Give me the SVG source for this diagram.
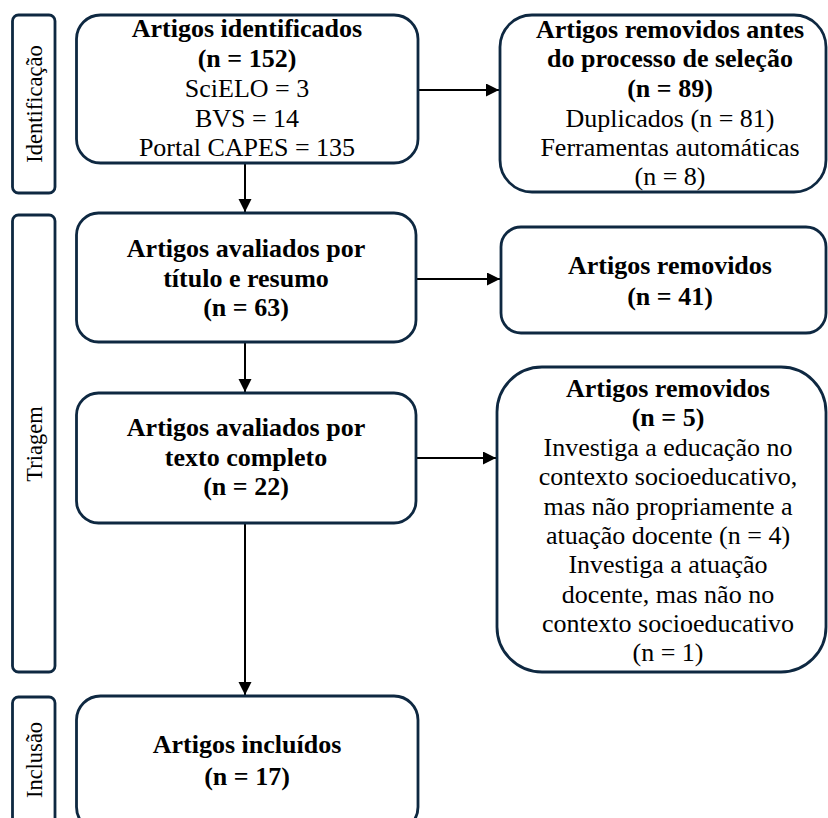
<svg xmlns="http://www.w3.org/2000/svg" width="828" height="818" viewBox="0 0 828 818">
<style>
  .box { fill: #ffffff; stroke: #0E2841; stroke-width: 2.8; }
  .conn { stroke: #000000; stroke-width: 2; fill: none; }
</style>
<defs>
  <marker id="arrow" markerUnits="userSpaceOnUse" markerWidth="14" markerHeight="14" refX="13" refY="6.5" orient="auto">
    <path d="M0,0 L13,6.5 L0,13 z" fill="#000000"/>
  </marker>
</defs>
<rect width="828" height="818" fill="#ffffff"/>

<g id="label-identificacao">
  <rect class="box" x="12.5" y="15" width="42.5" height="178" rx="6"/>
  <text font-family="Liberation Serif" font-size="22.5" text-anchor="middle" transform="translate(42,104) rotate(-90)">Identificação</text>
</g>
<g id="label-triagem">
  <rect class="box" x="12.5" y="215" width="42.5" height="457" rx="6"/>
  <text font-family="Liberation Serif" font-size="22.5" text-anchor="middle" transform="translate(42,444) rotate(-90)">Triagem</text>
</g>
<g id="label-inclusao">
  <rect class="box" x="12.5" y="697" width="42.5" height="130" rx="6"/>
  <text font-family="Liberation Serif" font-size="22.5" text-anchor="middle" transform="translate(42,760) rotate(-90)">Inclusão</text>
</g>

<g id="connectors">
  <line class="conn" marker-end="url(#arrow)" x1="245" y1="163" x2="245" y2="212"/>
  <line class="conn" marker-end="url(#arrow)" x1="418" y1="90" x2="499" y2="90"/>
  <line class="conn" marker-end="url(#arrow)" x1="416" y1="279" x2="500" y2="279"/>
  <line class="conn" marker-end="url(#arrow)" x1="245" y1="342" x2="245" y2="392"/>
  <line class="conn" marker-end="url(#arrow)" x1="416" y1="458" x2="496" y2="458"/>
  <line class="conn" marker-end="url(#arrow)" x1="245" y1="523" x2="245" y2="695"/>
</g>

<g id="node-identificados">
  <rect class="box" x="76.5" y="15" width="341.5" height="148" rx="24"/>
  <g font-family="Liberation Serif" font-size="26" text-anchor="middle">
    <text font-weight="bold" x="247" y="37">Artigos identificados</text>
    <text font-weight="bold" x="247" y="67">(n = 152)</text>
    <text x="247" y="97">SciELO = 3</text>
    <text x="247" y="127">BVS = 14</text>
    <text x="247" y="156">Portal CAPES = 135</text>
  </g>
</g>

<g id="node-removidos-antes">
  <rect class="box" x="500" y="15" width="326" height="177" rx="32"/>
  <g font-family="Liberation Serif" font-size="26" text-anchor="middle">
    <text font-weight="bold" x="670" y="38">Artigos removidos antes</text>
    <text font-weight="bold" x="670" y="67">do processo de seleção</text>
    <text font-weight="bold" x="670" y="97">(n = 89)</text>
    <text x="670" y="127">Duplicados (n = 81)</text>
    <text x="670" y="156">Ferramentas automáticas</text>
    <text x="670" y="185">(n = 8)</text>
  </g>
</g>

<g id="node-titulo-resumo">
  <rect class="box" x="76.5" y="213" width="339.5" height="129" rx="22"/>
  <g font-family="Liberation Serif" font-size="26" text-anchor="middle" font-weight="bold">
    <text x="246" y="257">Artigos avaliados por</text>
    <text x="246" y="287">título e resumo</text>
    <text x="246" y="316">(n = 63)</text>
  </g>
</g>

<g id="node-removidos-41">
  <rect class="box" x="501" y="227" width="325" height="106" rx="20"/>
  <g font-family="Liberation Serif" font-size="26" text-anchor="middle" font-weight="bold">
    <text x="670" y="274">Artigos removidos</text>
    <text x="670" y="305">(n = 41)</text>
  </g>
</g>

<g id="node-texto-completo">
  <rect class="box" x="76.5" y="393" width="339.5" height="130" rx="22"/>
  <g font-family="Liberation Serif" font-size="26" text-anchor="middle" font-weight="bold">
    <text x="246" y="436">Artigos avaliados por</text>
    <text x="246" y="466">texto completo</text>
    <text x="246" y="495">(n = 22)</text>
  </g>
</g>

<g id="node-removidos-5">
  <rect class="box" x="497" y="367" width="329" height="305" rx="45"/>
  <g font-family="Liberation Serif" font-size="26" text-anchor="middle">
    <text font-weight="bold" x="668" y="397">Artigos removidos</text>
    <text font-weight="bold" x="668" y="426">(n = 5)</text>
    <text x="668" y="456">Investiga a educação no</text>
    <text x="668" y="485">contexto socioeducativo,</text>
    <text x="668" y="515">mas não propriamente a</text>
    <text x="668" y="544">atuação docente (n = 4)</text>
    <text x="668" y="573">Investiga a atuação</text>
    <text x="668" y="603">docente, mas não no</text>
    <text x="668" y="632">contexto socioeducativo</text>
    <text x="668" y="661">(n = 1)</text>
  </g>
</g>

<g id="node-incluidos">
  <rect class="box" x="76.5" y="696" width="341.5" height="135" rx="24"/>
  <g font-family="Liberation Serif" font-size="26" text-anchor="middle" font-weight="bold">
    <text x="247" y="753">Artigos incluídos</text>
    <text x="247" y="785">(n = 17)</text>
  </g>
</g>
</svg>
